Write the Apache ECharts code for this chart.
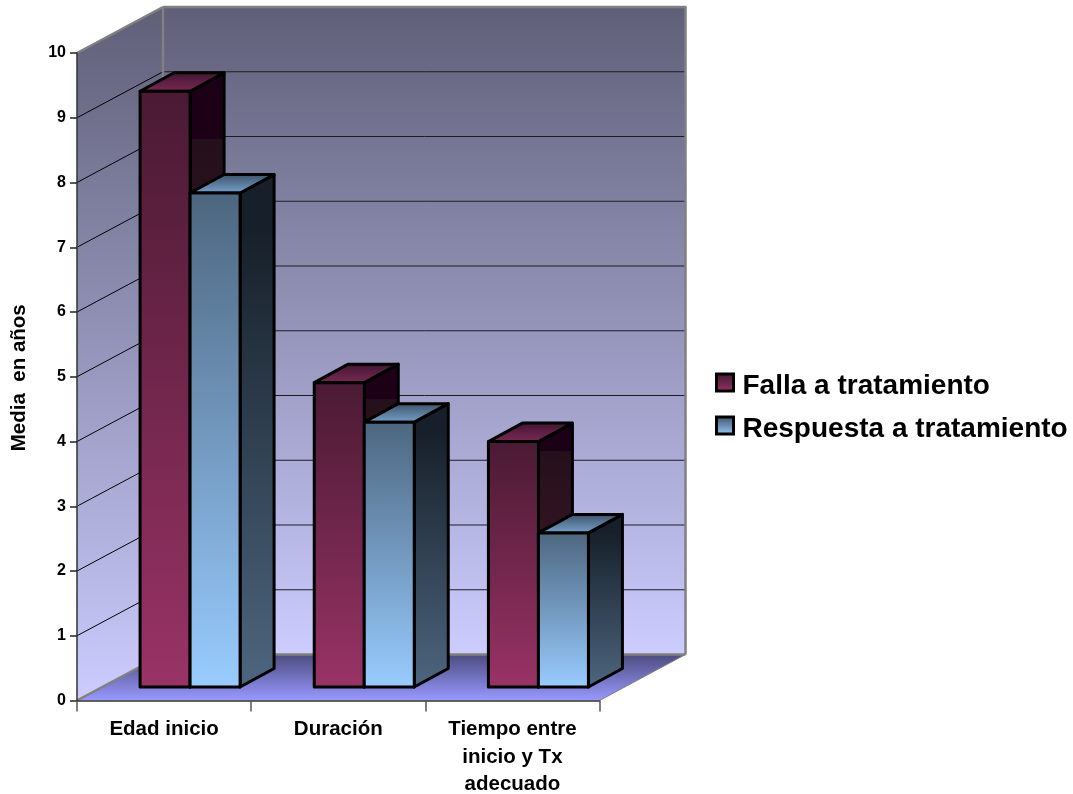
<!DOCTYPE html>
<html>
<head>
<meta charset="utf-8">
<style>html,body{margin:0;padding:0;background:#fff}#chart{width:1073px;height:794px}</style>
<script src="https://cdn.jsdelivr.net/npm/echarts@6/dist/echarts.min.js"></script>
</head>
<body>
<div id="chart"></div>
<script>
// Mean years per clinical stage, split by treatment outcome
const categories = ['Edad inicio', 'Duración', 'Tiempo entre\ninicio y Tx\nadecuado'];
const fallaValues = [9.2, 4.7, 3.79];
const respuestaValues = [7.63, 4.09, 2.38];
const yTicks = [0, 1, 2, 3, 4, 5, 6, 7, 8, 9, 10];
const seriesNames = ['Falla a tratamiento', 'Respuesta a tratamiento'];

// Oblique projection of the box: wall depth, bar plane inset, bar depth and width
const WALL_DX = 86, WALL_DY = -46;
const PLANE_DX = 26, PLANE_DY = -13.5;
const BAR_DX = 34, BAR_DY = -18.5;
const BAR_W = 50;

const vGrad = (c0, c1) => new echarts.graphic.LinearGradient(0, 0, 0, 1, [
  { offset: 0, color: c0 }, { offset: 1, color: c1 }
]);
// Side faces carry a small step in tone near the top
const sideGrad = (c0, c1, c2) => new echarts.graphic.LinearGradient(0, 0, 0, 1, [
  { offset: 0, color: c0 }, { offset: 0.11, color: c0 },
  { offset: 0.11, color: c1 }, { offset: 1, color: c2 }
]);

const palettes = [
  { front: ['#4a1a33', '#993366'], top: ['#3f1530', '#7d2a55'], side: ['#1c0016', '#24101a', '#4d1a33'] },
  { front: ['#4d667f', '#99ccff'], top: ['#3a4d62', '#7aa6d2'], side: ['#17202a', '#17202a', '#4d667f'] }
];

function polygon(points, style) {
  return { type: 'polygon', shape: { points }, style };
}
function segment(a, b, stroke, lineWidth) {
  return { type: 'line', shape: { x1: a[0], y1: a[1], x2: b[0], y2: b[1] }, style: { stroke, lineWidth } };
}

function renderBox(params, api) {
  const cs = params.coordSys;
  const left = cs.x, right = cs.x + cs.width;
  const y0 = api.coord([0, 0])[1];
  const y10 = api.coord([0, 10])[1];
  const backL = left + WALL_DX, backR = right + WALL_DX;
  const children = [];

  const wallFill = vGrad('#5f5f78', '#ccccff');
  children.push(polygon([[backL, y10 + WALL_DY], [backR, y10 + WALL_DY], [backR, y0 + WALL_DY], [backL, y0 + WALL_DY]], { fill: wallFill }));
  children.push(polygon([[left, y10], [backL, y10 + WALL_DY], [backL, y0 + WALL_DY], [left, y0]], { fill: wallFill }));
  children.push(polygon([[left, y0], [right, y0], [backR, y0 + WALL_DY], [backL, y0 + WALL_DY]], { fill: vGrad('#4c4c80', '#9999ff') }));

  yTicks.slice(1, -1).forEach(v => {
    const y = api.coord([0, v])[1];
    children.push(segment([left, y], [backL, y + WALL_DY], '#000', 1));
    children.push(segment([backL, y + WALL_DY], [backR, y + WALL_DY], '#1c1c28', 1));
  });

  const edge = '#808080';
  children.push(segment([left, y10], [backL, y10 + WALL_DY], edge, 2.5));
  children.push(segment([backL, y10 + WALL_DY], [backR + 1, y10 + WALL_DY], edge, 2.5));
  children.push(segment([backL, y10 + WALL_DY], [backL, y0 + WALL_DY], edge, 2.5));
  children.push(segment([backR, y10 + WALL_DY], [backR, y0 + WALL_DY], edge, 2.5));
  children.push(segment([backL, y0 + WALL_DY], [backR, y0 + WALL_DY], edge, 2.5));
  children.push(segment([left, y0], [backL, y0 + WALL_DY], edge, 2.5));
  children.push(segment([right, y0], [backR, y0 + WALL_DY], edge, 1));

  return { type: 'group', children };
}

function barRenderer(seriesIndex) {
  return function (params, api) {
    const idx = api.value(0);
    const top = api.coord([idx, api.value(1)]);
    const base = api.coord([idx, 0]);
    const x0 = top[0] + PLANE_DX + (seriesIndex === 0 ? -BAR_W : 0);
    const x1 = x0 + BAR_W;
    const yt = top[1] + PLANE_DY;
    const yb = base[1] + PLANE_DY;
    const pal = palettes[seriesIndex];
    const line = { stroke: '#000', lineWidth: 3, lineJoin: 'round' };
    return {
      type: 'group',
      children: [
        polygon([[x1, yt], [x1 + BAR_DX, yt + BAR_DY], [x1 + BAR_DX, yb + BAR_DY], [x1, yb]],
          Object.assign({ fill: sideGrad(pal.side[0], pal.side[1], pal.side[2]) }, line)),
        polygon([[x0, yt], [x0 + BAR_DX, yt + BAR_DY], [x1 + BAR_DX, yt + BAR_DY], [x1, yt]],
          Object.assign({ fill: vGrad(pal.top[0], pal.top[1]) }, line)),
        polygon([[x0, yt], [x1, yt], [x1, yb], [x0, yb]],
          Object.assign({ fill: vGrad(pal.front[0], pal.front[1]) }, line))
      ]
    };
  };
}

const chart = echarts.init(document.getElementById('chart'), null, { renderer: 'canvas' });
const FONT = '"Liberation Sans", Arial, sans-serif';
const LEGEND_TEXT = { fontFamily: FONT, fontWeight: 'bold', fontSize: 28, color: '#000', lineHeight: 29 };

chart.setOption({
  animation: false,
  backgroundColor: '#fff',
  grid: { left: 77, top: 53, width: 522.5, height: 647.5, containLabel: false, outerBoundsMode: 'none' },
  legend: {
    orient: 'vertical',
    left: 715,
    top: 364.5,
    padding: 0,
    itemWidth: 17,
    itemHeight: 17,
    itemGap: 7,
    selectedMode: false,
    formatter: '{t|{name}}',
    textStyle: Object.assign({}, LEGEND_TEXT, {
      padding: [0, 0, 0, 4],
      rich: { t: Object.assign({}, LEGEND_TEXT, { padding: [8, 0, 0, 0] }) }
    }),
    data: seriesNames.map((name, i) => ({
      name,
      icon: 'rect',
      itemStyle: { color: vGrad(palettes[i].top[0], palettes[i].front[1]), borderColor: '#000', borderWidth: 3 }
    }))
  },
  xAxis: {
    type: 'category',
    data: categories,
    z: 10,
    axisLine: { show: true, lineStyle: { color: '#333', width: 1.5 } },
    axisTick: { show: true, length: 11, lineStyle: { color: '#555', width: 1.5 } },
    axisLabel: {
      interval: 0, margin: 15.5, fontFamily: FONT, fontWeight: 'bold',
      fontSize: 20.5, lineHeight: 27.5, color: '#000'
    }
  },
  yAxis: {
    type: 'value',
    min: 0,
    max: 10,
    interval: 1,
    z: 10,
    name: 'Media  en años',
    nameLocation: 'middle',
    nameGap: 47,
    nameTextStyle: { fontFamily: FONT, fontWeight: 'bold', fontSize: 20.5, color: '#000', padding: [0, 2, 0, 0] },
    axisLine: { show: true, lineStyle: { color: '#333', width: 1.5 } },
    axisTick: { show: true, length: 7, lineStyle: { color: '#222', width: 1.5 } },
    axisLabel: { margin: 11, fontFamily: FONT, fontWeight: 'bold', fontSize: 16, color: '#000' },
    splitLine: { show: false }
  },
  series: [
    { type: 'custom', name: 'caja', silent: true, clip: false, z: 1, renderItem: renderBox, data: [[0, 0]], encode: { x: 0, y: 1 } },
    {
      type: 'custom', name: seriesNames[0], clip: false, z: 2, renderItem: barRenderer(0),
      data: fallaValues.map((v, i) => [i, v]), encode: { x: 0, y: 1 }
    },
    {
      type: 'custom', name: seriesNames[1], clip: false, z: 3, renderItem: barRenderer(1),
      data: respuestaValues.map((v, i) => [i, v]), encode: { x: 0, y: 1 }
    }
  ]
});
</script>
</body>
</html>
